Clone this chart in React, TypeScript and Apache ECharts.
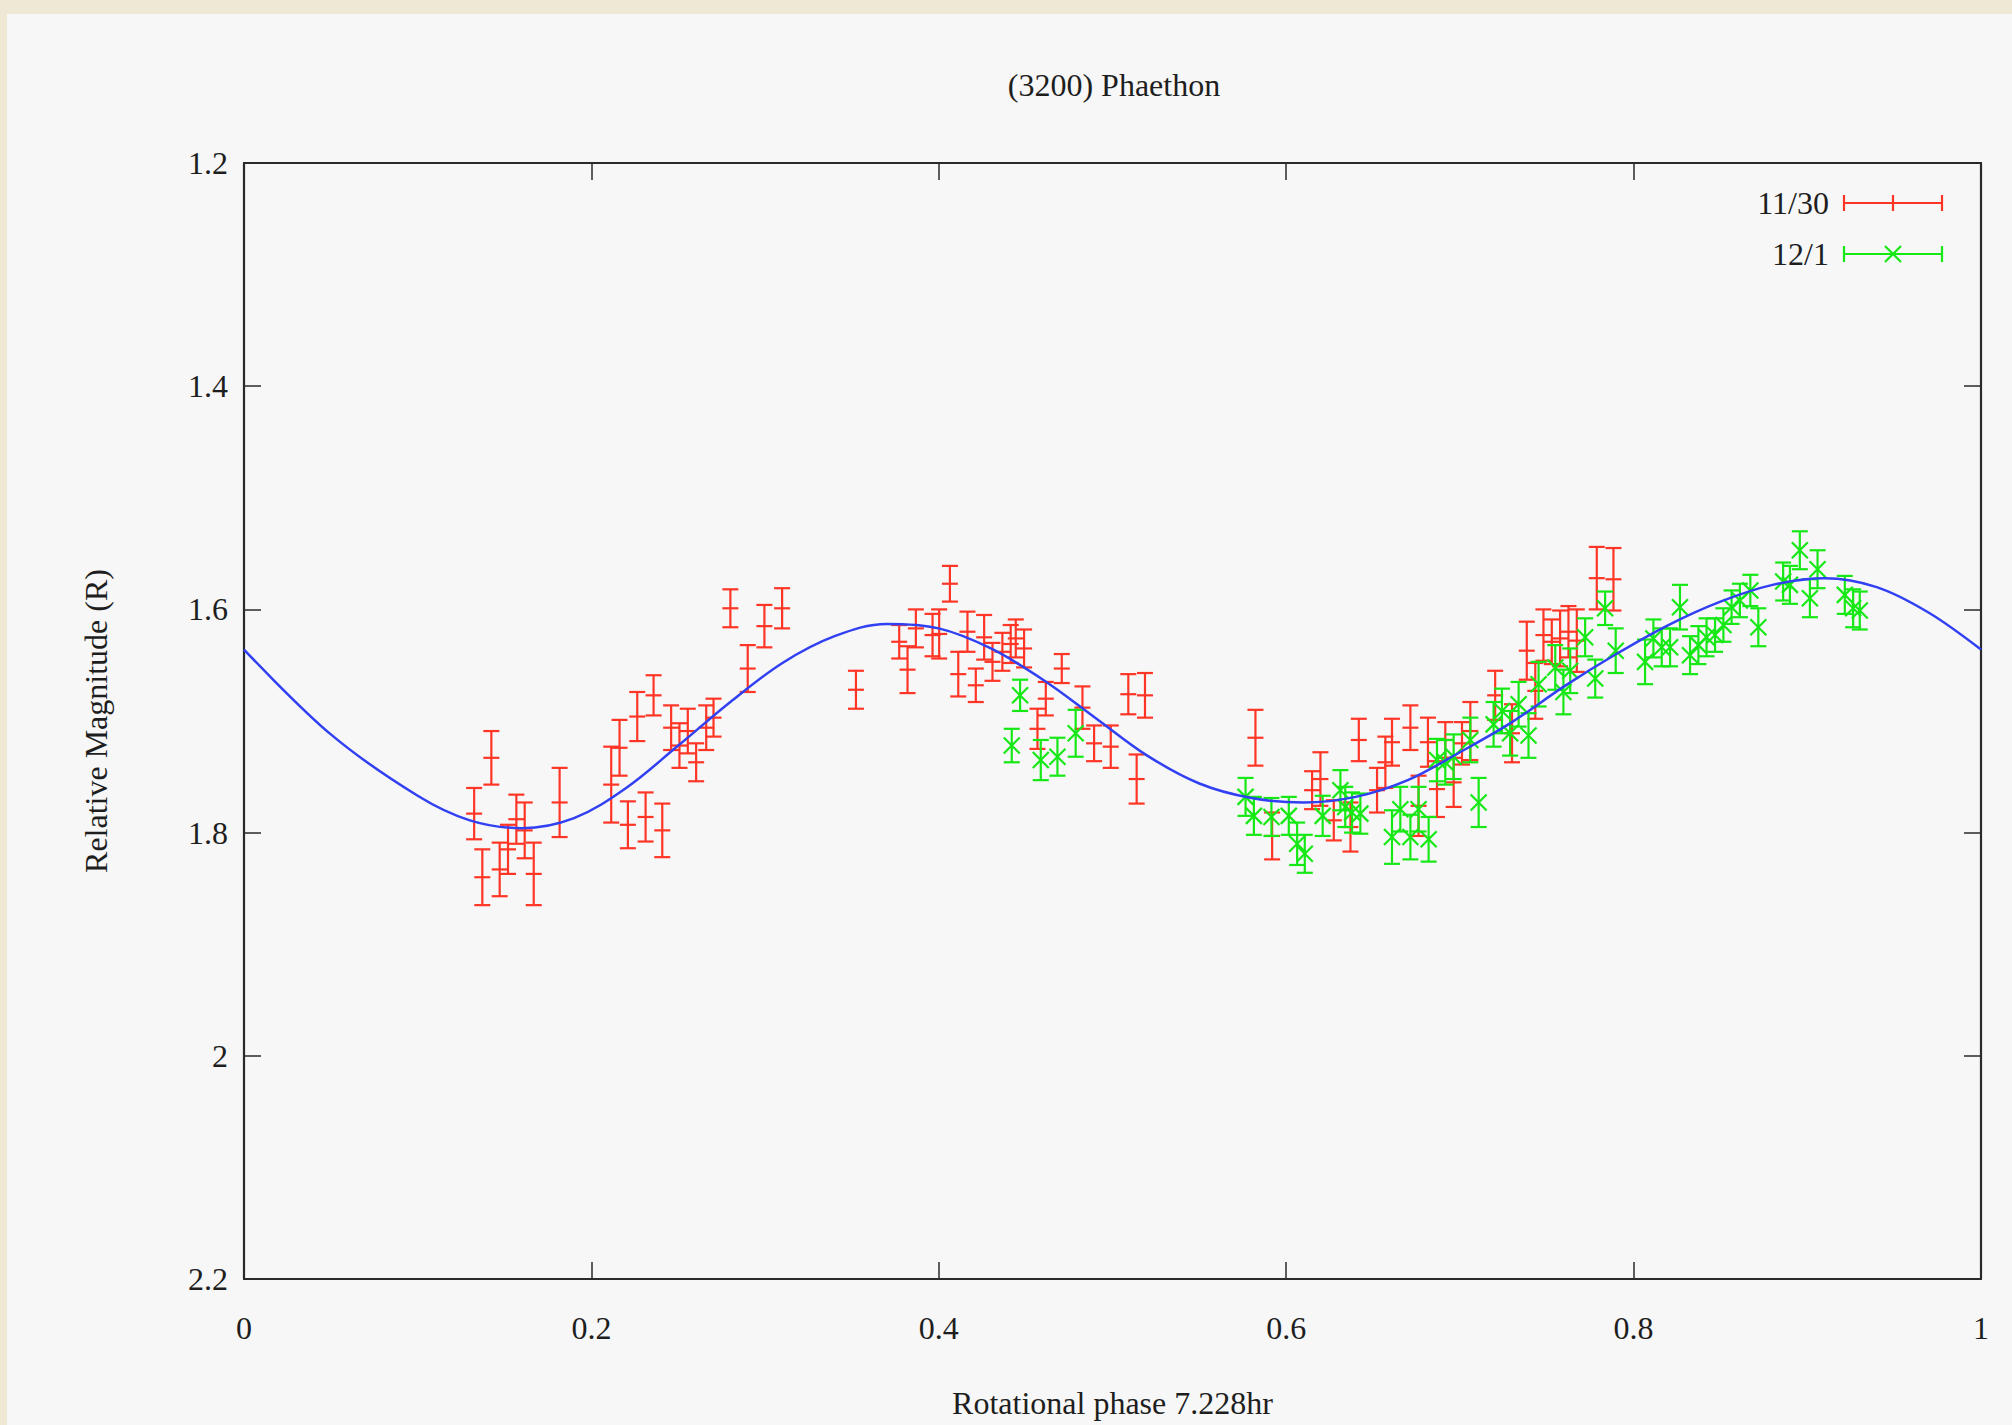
import React, { useEffect, useRef } from "react";
import * as echarts from "echarts";

// ---- Data ----
const titleText = "(3200) Phaethon";
const xName = "Rotational phase 7.228hr";
const yName = "Relative Magnitude (R)";
const seriesNames = ["11/30", "12/1"];

// 11/30 (red): phase, magnitude, error
const redPhase = [
  0.1325, 0.1372, 0.1424, 0.1472, 0.152, 0.1568, 0.1616, 0.1668, 0.1817, 0.2114,
  0.2162, 0.221, 0.2264, 0.2312, 0.2358, 0.2408, 0.2459, 0.2507, 0.2555, 0.2603,
  0.2661, 0.2703, 0.28, 0.29, 0.2996, 0.3098, 0.3523, 0.3772, 0.382, 0.3868,
  0.3964, 0.4002, 0.4064, 0.4112, 0.4165, 0.4213, 0.4261, 0.4309, 0.4366, 0.4414,
  0.4443, 0.4491, 0.4568, 0.4616, 0.4708, 0.4827, 0.4894, 0.499, 0.5091, 0.5139,
  0.5187, 0.5823, 0.5919, 0.6149, 0.6197, 0.6274, 0.637, 0.6418, 0.6523, 0.6571,
  0.6609, 0.6715, 0.6762, 0.6816, 0.6868, 0.6916, 0.6964, 0.7012, 0.706, 0.7203,
  0.73, 0.7385, 0.7434, 0.7481, 0.7529, 0.7577, 0.7625, 0.7673, 0.7788, 0.7884,
];
const redMag = [
  1.783, 1.84, 1.733, 1.833, 1.815, 1.788, 1.798, 1.837, 1.773, 1.757,
  1.724, 1.793, 1.696, 1.786, 1.677, 1.798, 1.706, 1.722, 1.709, 1.737,
  1.706, 1.697, 1.599, 1.653, 1.615, 1.599, 1.672, 1.629, 1.654, 1.617,
  1.623, 1.622, 1.577, 1.658, 1.62, 1.668, 1.625, 1.647, 1.638, 1.631,
  1.626, 1.635, 1.707, 1.68, 1.653, 1.688, 1.72, 1.723, 1.676, 1.752,
  1.677, 1.715, 1.803, 1.762, 1.752, 1.789, 1.795, 1.717, 1.762, 1.737,
  1.719, 1.706, 1.776, 1.719, 1.761, 1.717, 1.755, 1.72, 1.709, 1.677,
  1.711, 1.637, 1.673, 1.623, 1.629, 1.626, 1.62, 1.628, 1.572, 1.573,
];
const redErr = [
  0.023, 0.025, 0.024, 0.024, 0.022, 0.022, 0.025, 0.028, 0.031, 0.034,
  0.025, 0.021, 0.022, 0.022, 0.018, 0.024, 0.02, 0.02, 0.02, 0.017,
  0.02, 0.017, 0.017, 0.021, 0.019, 0.018, 0.017, 0.015, 0.021, 0.017,
  0.019, 0.022, 0.016, 0.02, 0.018, 0.015, 0.02, 0.017, 0.017, 0.017,
  0.017, 0.017, 0.018, 0.015, 0.013, 0.019, 0.016, 0.019, 0.018, 0.022,
  0.02, 0.025, 0.021, 0.017, 0.024, 0.018, 0.022, 0.019, 0.02, 0.023,
  0.021, 0.02, 0.027, 0.022, 0.025, 0.016, 0.022, 0.019, 0.026, 0.022,
  0.026, 0.026, 0.025, 0.023, 0.02, 0.025, 0.023, 0.028, 0.028, 0.028,
];

// 12/1 (green): phase, magnitude, error
const greenPhase = [
  0.442, 0.4468, 0.4587, 0.4683, 0.4788, 0.5766, 0.5814, 0.5915, 0.6015, 0.6063,
  0.6107, 0.621, 0.6312, 0.634, 0.6379, 0.6427, 0.6609, 0.6657, 0.6715, 0.6762,
  0.682, 0.6868, 0.6916, 0.6964, 0.706, 0.7108, 0.7194, 0.7242, 0.7289, 0.7338,
  0.7395, 0.7453, 0.7549, 0.7596, 0.7635, 0.7721, 0.7779, 0.7836, 0.7897, 0.8066,
  0.8114, 0.8162, 0.821, 0.8267, 0.8325, 0.8373, 0.842, 0.8469, 0.8517, 0.8564,
  0.8612, 0.8672, 0.8718, 0.8861, 0.89, 0.8957, 0.9015, 0.9059, 0.9216, 0.9264,
  0.9302,
];
const greenMag = [
  1.722, 1.677, 1.735, 1.732, 1.711, 1.768, 1.785, 1.786, 1.785, 1.81,
  1.819, 1.785, 1.762, 1.777, 1.782, 1.783, 1.804, 1.779, 1.804, 1.779,
  1.806, 1.735, 1.737, 1.732, 1.717, 1.773, 1.703, 1.691, 1.711, 1.685,
  1.713, 1.667, 1.652, 1.674, 1.655, 1.625, 1.662, 1.599, 1.637, 1.647,
  1.626, 1.634, 1.634, 1.598, 1.641, 1.632, 1.625, 1.623, 1.614, 1.598,
  1.592, 1.583, 1.616, 1.575, 1.578, 1.547, 1.59, 1.564, 1.587, 1.599,
  1.601,
];
const greenErr = [
  0.015, 0.014, 0.018, 0.017, 0.021, 0.017, 0.017, 0.017, 0.017, 0.019,
  0.017, 0.018, 0.018, 0.018, 0.018, 0.018, 0.024, 0.02, 0.02, 0.02,
  0.02, 0.019, 0.02, 0.02, 0.02, 0.022, 0.02, 0.02, 0.02, 0.02,
  0.02, 0.02, 0.02, 0.02, 0.02, 0.017, 0.017, 0.015, 0.02, 0.02,
  0.017, 0.017, 0.017, 0.02, 0.017, 0.017, 0.017, 0.015, 0.015, 0.015,
  0.015, 0.014, 0.017, 0.017, 0.017, 0.017, 0.017, 0.017, 0.017, 0.017,
  0.017,
];

// Fitted light curve (blue) at regular phases
const fitPhase = [
  0, 0.05, 0.1, 0.13, 0.16, 0.19, 0.22, 0.25, 0.28, 0.31,
  0.34, 0.37, 0.4, 0.43, 0.46, 0.49, 0.52, 0.55, 0.58, 0.61,
  0.64, 0.67, 0.7, 0.73, 0.76, 0.79, 0.82, 0.85, 0.88, 0.91,
  0.94, 0.97, 1.0,
];
const fitMag = [
  1.636, 1.712, 1.767, 1.789, 1.796, 1.787, 1.76, 1.722, 1.683, 1.648,
  1.624, 1.613, 1.617, 1.635, 1.663, 1.697, 1.731, 1.756, 1.769, 1.773,
  1.768, 1.753, 1.728, 1.701, 1.669, 1.64, 1.614, 1.593, 1.578, 1.572,
  1.58, 1.603, 1.636,
];

const xTicks = [0, 0.2, 0.4, 0.6, 0.8, 1];
const yTicks = [1.2, 1.4, 1.6, 1.8, 2, 2.2];

const RED = "#ff3526";
const GREEN = "#16e816";
const BLUE = "#3040f2";
const FONT = "'Liberation Serif', 'Times New Roman', serif";
const FS = 32;
const TEXT = "#1e1e1e";
const AXIS = "#2a2a2a";

function makeTriples(p: number[], m: number[], e: number[]) {
  return p.map((v, i) => [v, m[i], e[i]]);
}

function errorRender(color: string, marker: "plus" | "cross") {
  return (params: any, api: any) => {
    const x = api.value(0);
    const y = api.value(1);
    const e = api.value(2);
    const c = api.coord([x, y]);
    const t = api.coord([x, y - e]);
    const b = api.coord([x, y + e]);
    const w = 8;
    const style = { stroke: color, lineWidth: 2.2, fill: null };
    const children: any[] = [
      { type: "line", shape: { x1: c[0], y1: t[1], x2: c[0], y2: b[1] }, style },
      { type: "line", shape: { x1: c[0] - w, y1: t[1], x2: c[0] + w, y2: t[1] }, style },
      { type: "line", shape: { x1: c[0] - w, y1: b[1], x2: c[0] + w, y2: b[1] }, style },
    ];
    if (marker === "plus") {
      children.push({ type: "line", shape: { x1: c[0] - w, y1: c[1], x2: c[0] + w, y2: c[1] }, style });
    } else {
      children.push({ type: "line", shape: { x1: c[0] - w, y1: c[1] - w, x2: c[0] + w, y2: c[1] + w }, style });
      children.push({ type: "line", shape: { x1: c[0] - w, y1: c[1] + w, x2: c[0] + w, y2: c[1] - w }, style });
    }
    return { type: "group", children };
  };
}

function legendItem(label: string, color: string, cy: number, marker: "plus" | "cross") {
  const x0 = 1837;
  const x1 = 1935;
  const xm = 1886;
  const w = 8;
  const style = { stroke: color, lineWidth: 2.2 };
  const kids: any[] = [
    { type: "line", shape: { x1: x0, y1: cy, x2: x1, y2: cy }, style },
    { type: "line", shape: { x1: x0, y1: cy - w, x2: x0, y2: cy + w }, style },
    { type: "line", shape: { x1: x1, y1: cy - w, x2: x1, y2: cy + w }, style },
  ];
  if (marker === "plus") {
    kids.push({ type: "line", shape: { x1: xm, y1: cy - w, x2: xm, y2: cy + w }, style });
  } else {
    kids.push({ type: "line", shape: { x1: xm - w, y1: cy - w, x2: xm + w, y2: cy + w }, style });
    kids.push({ type: "line", shape: { x1: xm - w, y1: cy + w, x2: xm + w, y2: cy - w }, style });
  }
  kids.push({
    type: "text",
    x: 1822,
    y: cy,
    style: { text: label, align: "right", verticalAlign: "middle", font: `${FS}px ${FONT}`, fill: TEXT },
  });
  return { type: "group", children: kids };
}

export default function App() {
  const ref = useRef<HTMLDivElement>(null);
  useEffect(() => {
    document.body.style.margin = "0";
    if (!ref.current) return;
    const chart = echarts.init(ref.current, null, { renderer: "svg" });
    const fmt = (v: number) => String(Math.round(v * 10) / 10);
    const tickCommon = {
      axisLine: { show: true, onZero: false, lineStyle: { color: AXIS, width: 2.2 } },
      axisTick: { show: true, inside: true, length: 17, lineStyle: { color: AXIS, width: 1.5 } },
      splitLine: { show: false },
    };
    const option: any = {
      animation: false,
      backgroundColor: "#f7f7f7",
      grid: { left: 237, top: 149, right: 31, bottom: 146, containLabel: false },
      xAxis: [
        {
          type: "value",
          min: xTicks[0],
          max: xTicks[xTicks.length - 1],
          interval: 0.2,
          position: "bottom",
          name: xName,
          nameLocation: "middle",
          nameGap: 108,
          nameTextStyle: { fontFamily: FONT, fontSize: FS, color: TEXT },
          axisLabel: { formatter: fmt, margin: 33, fontFamily: FONT, fontSize: FS, color: TEXT },
          ...tickCommon,
        },
        {
          type: "value",
          min: xTicks[0],
          max: xTicks[xTicks.length - 1],
          interval: 0.2,
          position: "top",
          axisLabel: { show: false },
          ...tickCommon,
        },
      ],
      yAxis: [
        {
          type: "value",
          min: yTicks[0],
          max: yTicks[yTicks.length - 1],
          interval: 0.2,
          inverse: true,
          position: "left",
          name: yName,
          nameLocation: "middle",
          nameGap: 132,
          nameRotate: 90,
          nameTextStyle: { fontFamily: FONT, fontSize: FS, color: TEXT },
          axisLabel: { formatter: fmt, margin: 16, fontFamily: FONT, fontSize: FS, color: TEXT },
          ...tickCommon,
        },
        {
          type: "value",
          min: yTicks[0],
          max: yTicks[yTicks.length - 1],
          interval: 0.2,
          inverse: true,
          position: "right",
          axisLabel: { show: false },
          ...tickCommon,
        },
      ],
      graphic: [
        {
          type: "text",
          x: 1107,
          y: 71,
          style: { text: titleText, align: "center", verticalAlign: "middle", font: `${FS}px ${FONT}`, fill: TEXT },
        },
        legendItem(seriesNames[0], RED, 189, "plus"),
        legendItem(seriesNames[1], GREEN, 240, "cross"),
      ],
      series: [
        {
          name: seriesNames[0],
          type: "custom",
          xAxisIndex: 0,
          yAxisIndex: 0,
          renderItem: errorRender(RED, "plus"),
          data: makeTriples(redPhase, redMag, redErr),
          encode: { x: 0, y: 1 },
          z: 2,
        },
        {
          name: seriesNames[1],
          type: "custom",
          xAxisIndex: 0,
          yAxisIndex: 0,
          renderItem: errorRender(GREEN, "cross"),
          data: makeTriples(greenPhase, greenMag, greenErr),
          encode: { x: 0, y: 1 },
          z: 3,
        },
        {
          name: "fit",
          type: "line",
          xAxisIndex: 0,
          yAxisIndex: 0,
          data: fitPhase.map((p, i) => [p, fitMag[i]]),
          smooth: 0.35,
          showSymbol: false,
          symbol: "none",
          lineStyle: { color: BLUE, width: 2.5 },
          z: 4,
        },
      ],
    };
    chart.setOption(option);
    return () => chart.dispose();
  }, []);
  return (
    <div style={{ position: "relative", width: 2012, height: 1425, background: "#efe8d5", overflow: "hidden" }}>
      <div
        ref={ref}
        style={{ position: "absolute", left: 7, top: 14, width: 2005, height: 1411, background: "#f7f7f7" }}
      />
    </div>
  );
}
